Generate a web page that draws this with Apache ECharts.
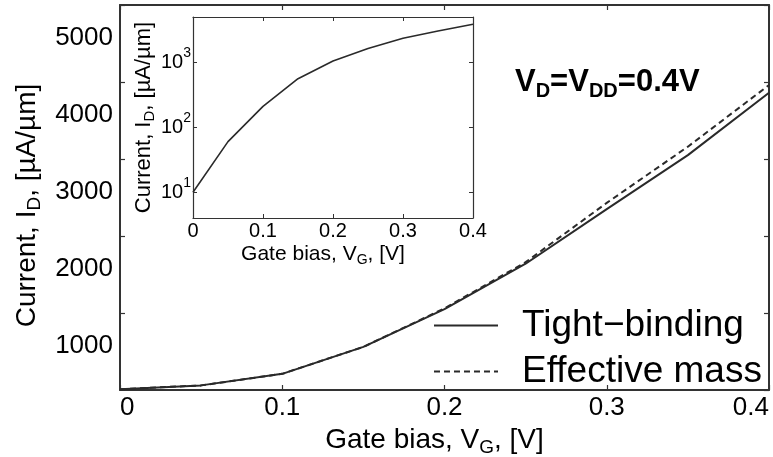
<!DOCTYPE html>
<html><head><meta charset="utf-8">
<script src="https://cdn.jsdelivr.net/npm/echarts@6/dist/echarts.min.js"></script>
<style>html,body{margin:0;padding:0;background:#fff}#c{width:773px;height:457px}</style>
</head><body><div id="c"></div>
<script>
// ---- data ----
const gateBias = [0, 0.05, 0.1, 0.15, 0.2, 0.25, 0.3, 0.35, 0.4];
const tightBinding = [10, 60, 210, 560, 1050, 1640, 2350, 3050, 3860];
const effectiveMass = [10, 60, 210, 560, 1060, 1660, 2430, 3160, 3960];
const seriesNames = ['Tight\u2212binding', 'Effective mass'];
const xTickValues = [0, 0.1, 0.2, 0.3, 0.4];
const mainYTicks = [1000, 2000, 3000, 4000, 5000];
const insetYTicks = [10, 100, 1000];
const annotation = ['V', 'D', '=V', 'DD', '=0.4V'];

const FONT = 'Liberation Sans, Arial, Helvetica, sans-serif';
const AX = '#333';
const LINE = '#2a2a2a';
const pairs = (xs, ys) => xs.map((x, i) => [x, ys[i]]);
const xFmt = v => (xTickValues.indexOf(Math.round(v * 10) / 10) >= 0 ? (v === 0 ? '0' : v.toFixed(1)) : '');
const yFmt = v => (mainYTicks.indexOf(v) >= 0 ? String(v) : '');
const logFmt = v => {
  const e = Math.round(Math.log10(v));
  if (insetYTicks.indexOf(v) < 0 && Math.abs(Math.pow(10, e) - v) > 1e-6) return '';
  return '10{sup|' + e + '}';
};

function mirror(base, pos) {
  return Object.assign({}, base, {
    position: pos, name: '',
    axisLabel: { show: false },
  });
}

const mainX = {
  type: 'value', gridIndex: 0, min: 0, max: 0.4, interval: 0.1, position: 'bottom',
  axisLine: { show: true, onZero: false, lineStyle: { color: AX, width: 2 } },
  axisTick: { show: true, inside: true, length: 5, lineStyle: { color: AX, width: 1.2 } },
  splitLine: { show: false },
  axisLabel: { formatter: xFmt, fontSize: 26, color: '#000', fontFamily: FONT, margin: 5,
    alignMinLabel: 'left', alignMaxLabel: 'right', showMinLabel: true, showMaxLabel: true, hideOverlap: false },
  name: 'Gate bias, V{sub|G}, [V]', nameLocation: 'middle', nameGap: 31,
  nameTextStyle: { fontSize: 28, color: '#000', fontFamily: FONT, padding: [0, 20, 0, 0],
    rich: { sub: { fontSize: 19, fontFamily: FONT, color: '#000', padding: [15, 0, 0, 0] } } }
};
const mainY = {
  type: 'value', gridIndex: 0, min: 0, max: 5000, interval: 1000, position: 'left',
  axisLine: { show: true, onZero: false, lineStyle: { color: AX, width: 2 } },
  axisTick: { show: true, inside: true, length: 5, lineStyle: { color: AX, width: 1.2 } },
  splitLine: { show: false },
  // the reference prints each label about a third of a division below its tick
  axisLabel: { formatter: yFmt, fontSize: 26, lineHeight: 66, verticalAlign: 'top', color: '#000',
    fontFamily: FONT, margin: 7, showMinLabel: false, showMaxLabel: true, hideOverlap: false },
  name: 'Current, I{sub|D}, [\u00b5A/\u00b5m]', nameLocation: 'middle', nameGap: 73,
  nameTextStyle: { fontSize: 28, color: '#000', fontFamily: FONT, padding: [0, 16, 0, 0],
    rich: { sub: { fontSize: 19, fontFamily: FONT, color: '#000', padding: [15, 0, 0, 0] } } }
};
const insetX = {
  type: 'value', gridIndex: 1, min: 0, max: 0.4, interval: 0.1, position: 'bottom',
  axisLine: { show: true, onZero: false, lineStyle: { color: AX, width: 1.2 } },
  axisTick: { show: true, inside: true, length: 4, lineStyle: { color: AX, width: 1 } },
  splitLine: { show: false },
  axisLabel: { formatter: xFmt, fontSize: 20, color: '#000', fontFamily: FONT, margin: 3,
    showMinLabel: true, showMaxLabel: true, hideOverlap: false },
  name: 'Gate bias, V{sub|G}, [V]', nameLocation: 'middle', nameGap: 24,
  nameTextStyle: { fontSize: 21, color: '#000', fontFamily: FONT, padding: [0, 20, 0, 0],
    rich: { sub: { fontSize: 14, fontFamily: FONT, color: '#000', padding: [11, 0, 0, 0] } } }
};
const insetY = {
  type: 'log', logBase: 10, gridIndex: 1, min: 4, max: 5000, position: 'left',
  axisLine: { show: true, onZero: false, lineStyle: { color: AX, width: 1.2 } },
  axisTick: { show: true, inside: true, length: 4, lineStyle: { color: AX, width: 1 } },
  splitLine: { show: false },
  axisLabel: { formatter: logFmt, fontSize: 20, color: '#000', fontFamily: FONT, margin: 2,
    showMinLabel: false, showMaxLabel: false,
    rich: { sup: { fontSize: 14, fontFamily: FONT, color: '#000', padding: [0, 0, 18, 0] } } },
  name: 'Current, I{sub|D}, [\u00b5A/\u00b5m]', nameLocation: 'middle', nameGap: 35,
  nameTextStyle: { fontSize: 22, color: '#000', fontFamily: FONT,
    rich: { sub: { fontSize: 15, fontFamily: FONT, color: '#000', padding: [11, 0, 0, 0] } } }
};

const option = {
  backgroundColor: '#fff',
  animation: false,
  grid: [
    { left: 120, top: 5, width: 649, height: 385, outerBoundsMode: 'none', containLabel: false },
    { left: 193, top: 17, width: 280, height: 201, outerBoundsMode: 'none', containLabel: false,
      show: true, backgroundColor: '#fff', borderWidth: 0 }
  ],
  xAxis: [mainX, mirror(mainX, 'top'), insetX, mirror(insetX, 'top')],
  yAxis: [mainY, mirror(mainY, 'right'), insetY, mirror(insetY, 'right')],
  legend: {
    data: seriesNames, orient: 'vertical', left: 433, top: 307, padding: 0,
    itemWidth: 64, itemHeight: 14, itemGap: 9,
    itemStyle: { opacity: 0 },
    textStyle: { fontSize: 37, color: '#000', fontFamily: FONT, padding: [0, 0, 0, 19] }
  },
  series: [
    { name: seriesNames[0], type: 'line', xAxisIndex: 0, yAxisIndex: 0, symbol: 'none',
      data: pairs(gateBias, tightBinding), lineStyle: { color: LINE, width: 2, type: 'solid' },
      itemStyle: { color: LINE }, z: 3 },
    { name: seriesNames[1], type: 'line', xAxisIndex: 0, yAxisIndex: 0, symbol: 'none',
      data: pairs(gateBias, effectiveMass), lineStyle: { color: LINE, width: 2, type: [6, 4] },
      itemStyle: { color: LINE }, z: 2 },
    { name: 'inset', type: 'line', xAxisIndex: 2, yAxisIndex: 2, symbol: 'none',
      data: pairs(gateBias, tightBinding), lineStyle: { color: LINE, width: 1.6 },
      itemStyle: { color: LINE } }
  ],
  graphic: [{
    type: 'text', left: 515, top: 67, z: 100,
    style: {
      text: '{b|' + annotation[0] + '}{s|' + annotation[1] + '}{b|' + annotation[2] + '}{s|' + annotation[3] + '}{b|' + annotation[4] + '}',
      rich: {
        b: { fontSize: 31, fontWeight: 'bold', fontFamily: FONT, fill: '#000', color: '#000' },
        s: { fontSize: 20, fontWeight: 'bold', fontFamily: FONT, fill: '#000', color: '#000', padding: [17, 0, 0, 0] }
      }
    }
  }]
};
const chart = echarts.init(document.getElementById('c'));
chart.setOption(option);
</script></body></html>
